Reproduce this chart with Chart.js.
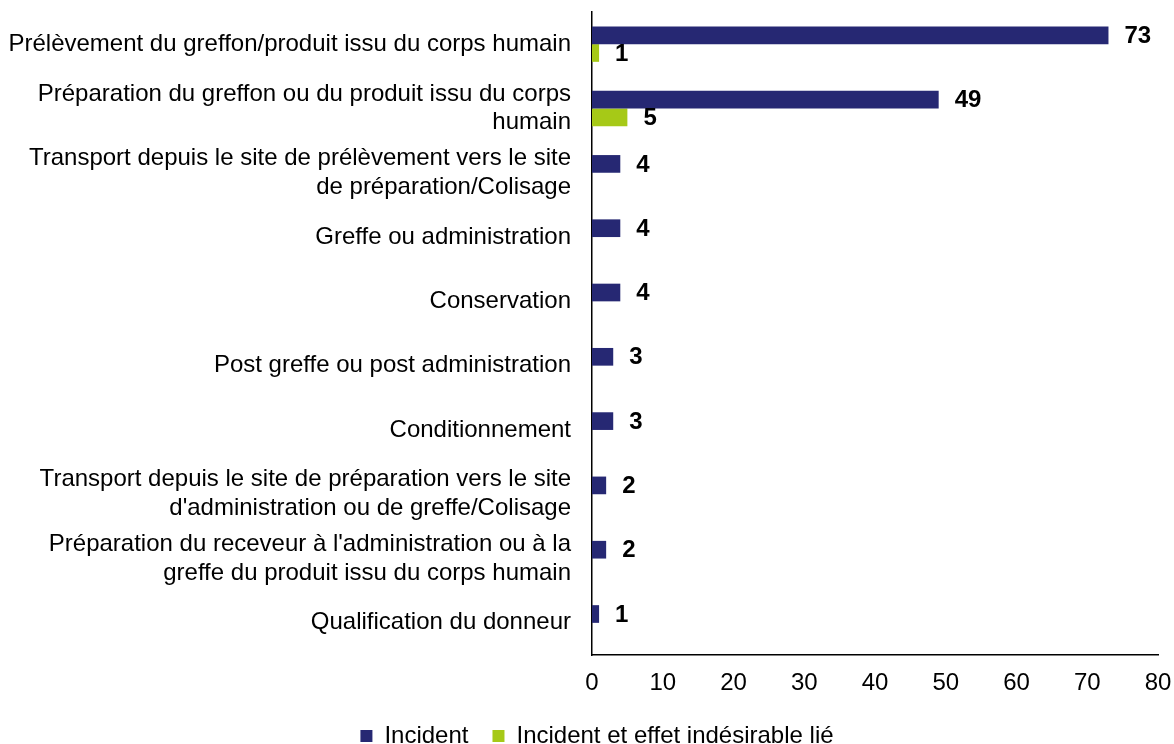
<!DOCTYPE html>
<html>
<head>
<meta charset="utf-8">
<script src="https://cdn.jsdelivr.net/npm/chart.js@4.4.1/dist/chart.umd.min.js"></script>
<style>
    html, body { margin: 0; padding: 0; background: #fff; }
    #wrap { width: 1174px; height: 744px; position: relative; }
</style>
</head>
<body>
<div id="wrap"><canvas id="chart"></canvas></div>
<script>
const categories = [
    'Prélèvement du greffon/produit issu du corps humain',
    ['Préparation du greffon ou du produit issu du corps', 'humain'],
    ['Transport depuis le site de prélèvement vers le site', 'de préparation/Colisage'],
    'Greffe ou administration',
    'Conservation',
    'Post greffe ou post administration',
    'Conditionnement',
    ['Transport depuis le site de préparation vers le site', "d'administration ou de greffe/Colisage"],
    ["Préparation du receveur à l'administration ou à la", 'greffe du produit issu du corps humain'],
    'Qualification du donneur'
];
const incident = [73, 49, 4, 4, 4, 3, 3, 2, 2, 1];
const incidentEffet = [1, 5, 0, 0, 0, 0, 0, 0, 0, 0];
const seriesNames = ['Incident', 'Incident et effet indésirable lié'];
const xTicks = [0, 10, 20, 30, 40, 50, 60, 70, 80];

const FONT = "'Liberation Sans', Arial, sans-serif";

// value labels at the end of each bar
const valueLabels = {
    id: 'valueLabels',
    afterDatasetsDraw(chart) {
        const ctx = chart.ctx;
        ctx.save();
        ctx.font = 'bold 24px ' + FONT;
        ctx.fillStyle = '#000';
        ctx.textAlign = 'left';
        ctx.textBaseline = 'middle';
        chart.data.datasets.forEach(function (ds, i) {
            const meta = chart.getDatasetMeta(i);
            meta.data.forEach(function (bar, j) {
                const v = ds.data[j];
                if (!v) return;
                ctx.fillText(String(v), bar.x + 16, bar.y + 1);
            });
        });
        ctx.restore();
    }
};

// legend: fixed height so it sits under the tick labels, nudged right a bit
const legendFit = {
    id: 'legendFit',
    beforeLayout(chart) {
        const lg = chart.legend;
        if (lg && !lg._fitWrapped) {
            const fit = lg.fit;
            lg.fit = function () {
                fit.call(this);
                this.height = 44;
            };
            lg._fitWrapped = true;
        }
    },
    afterLayout(chart) {
        const lg = chart.legend;
        if (lg) {
            lg.left += 18;
            lg.right += 18;
        }
    }
};

new Chart(document.getElementById('chart'), {
    type: 'bar',
    data: {
        labels: categories,
        datasets: [{
            label: seriesNames[0],
            data: incident,
            backgroundColor: '#262873',
            borderWidth: 0,
            categoryPercentage: 0.55,
            barPercentage: 1
        }, {
            label: seriesNames[1],
            data: incidentEffet,
            backgroundColor: '#A6C917',
            borderWidth: 0,
            categoryPercentage: 0.55,
            barPercentage: 1
        }]
    },
    options: {
        indexAxis: 'y',
        responsive: true,
        maintainAspectRatio: false,
        animation: false,
        layout: { padding: { top: 12, right: 16, left: 0, bottom: 0 } },
        plugins: {
            legend: {
                position: 'bottom',
                labels: {
                    boxWidth: 12,
                    boxHeight: 12,
                    padding: 24,
                    color: '#000',
                    font: { family: FONT, size: 24 }
                }
            },
            tooltip: { enabled: false }
        },
        scales: {
            x: {
                min: 0,
                max: 80,
                afterBuildTicks: function (scale) {
                    scale.ticks = xTicks.map(v => ({ value: v }));
                },
                afterFit: function (scale) {
                    scale.height = 45;
                    scale.paddingLeft = 0;
                    scale.paddingRight = 0;
                },
                grid: { display: false, drawTicks: false },
                border: { display: true, color: '#000', width: 1.5 },
                ticks: {
                    padding: 14,
                    color: '#000',
                    maxRotation: 0,
                    font: { family: FONT, size: 24 }
                }
            },
            y: {
                afterFit: function (scale) {
                    scale.width = 592;
                    scale.paddingTop = 0;
                    scale.paddingBottom = 0;
                },
                grid: { display: false, drawTicks: false },
                border: { display: true, color: '#000', width: 1.5 },
                ticks: {
                    padding: 21,
                    color: '#000',
                    autoSkip: false,
                    font: { family: FONT, size: 24, lineHeight: 1.2 }
                }
            }
        }
    },
    plugins: [valueLabels, legendFit]
});
</script>
</body>
</html>
